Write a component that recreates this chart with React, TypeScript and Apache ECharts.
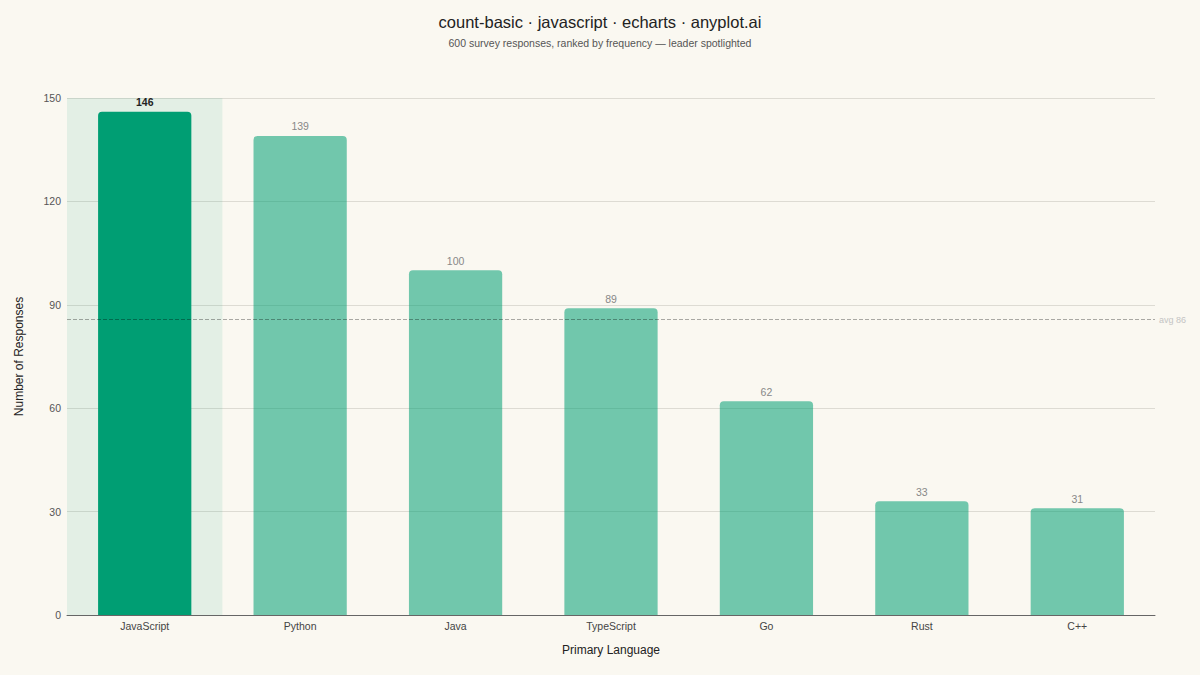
import React, { useEffect, useRef } from "react";
import * as echarts from "echarts";

const categories = ["JavaScript", "Python", "Java", "TypeScript", "Go", "Rust", "C++"];
const counts = [146, 139, 100, 89, 62, 33, 31];
const yTicks = { min: 0, max: 150, interval: 30 };
const titleText = "count-basic · javascript · echarts · anyplot.ai";
const subtitleText = "600 survey responses, ranked by frequency — leader spotlighted";

const FONT = "'Liberation Sans', Arial, Helvetica, sans-serif";

export default function App() {
  const ref = useRef<HTMLDivElement>(null);
  useEffect(() => {
    document.body.style.margin = "0";
    const chart = echarts.init(ref.current!, null, { renderer: "svg" });
    const total = counts.reduce((a, b) => a + b, 0);
    const avg = total / counts.length;
    const leaderIdx = counts.indexOf(Math.max(...counts));
    const areaColors = categories.map((_, i) =>
      i === leaderIdx ? "rgba(0,158,115,0.09)" : "rgba(0,0,0,0)"
    );
    chart.setOption({
      animation: false,
      backgroundColor: "#FAF8F1",
      textStyle: { fontFamily: FONT },
      title: {
        text: titleText,
        subtext: subtitleText,
        left: "center",
        top: 8,
        itemGap: 7,
        textStyle: { fontSize: 16.5, fontWeight: "normal", color: "#222", fontFamily: FONT },
        subtextStyle: { fontSize: 10.5, color: "#555", fontFamily: FONT },
      },
      grid: { left: 67, right: 45, top: 98, bottom: 60, containLabel: false },
      xAxis: {
        type: "category",
        data: categories,
        name: "Primary Language",
        nameLocation: "middle",
        nameGap: 29,
        nameTextStyle: { fontSize: 12, color: "#222", fontFamily: FONT },
        axisLine: { lineStyle: { color: "#666", width: 1 } },
        axisTick: { show: false },
        axisLabel: { color: "#444", fontSize: 10.5, margin: 5, fontFamily: FONT },
        splitArea: { show: true, interval: 0, areaStyle: { color: areaColors } },
      },
      yAxis: {
        type: "value",
        min: yTicks.min,
        max: yTicks.max,
        interval: yTicks.interval,
        name: "Number of Responses",
        nameLocation: "middle",
        nameGap: 42,
        nameTextStyle: { fontSize: 12, color: "#222", fontFamily: FONT },
        axisLine: { show: false },
        axisTick: { show: false },
        axisLabel: { color: "#555", fontSize: 10.5, margin: 6, fontFamily: FONT },
        splitLine: { lineStyle: { color: "#DDDBD3", width: 1 } },
      },
      series: [
        {
          type: "bar",
          barWidth: "60%",
          data: counts.map((v, i) =>
            i === leaderIdx
              ? {
                  value: v,
                  itemStyle: { color: "#009E73" },
                  label: { color: "#222", fontWeight: "bold" },
                }
              : v
          ),
          itemStyle: { color: "rgba(0,158,115,0.55)", borderRadius: [4, 4, 0, 0] },
          label: {
            show: true,
            position: "top",
            distance: 4,
            color: "#888",
            fontSize: 10.5,
            fontFamily: FONT,
          },
          markLine: {
            silent: true,
            symbol: "none",
            data: [{ yAxis: avg }],
            lineStyle: { type: "dashed", color: "rgba(0,0,0,0.32)", width: 1 },
            label: {
              show: true,
              position: "end",
              formatter: "avg " + Math.round(avg),
              color: "#C4C4C4",
              fontSize: 9,
              fontFamily: FONT,
              distance: 4,
            },
          },
        },
      ],
    });
    return () => chart.dispose();
  }, []);
  return <div ref={ref} style={{ width: 1200, height: 675 }} />;
}
